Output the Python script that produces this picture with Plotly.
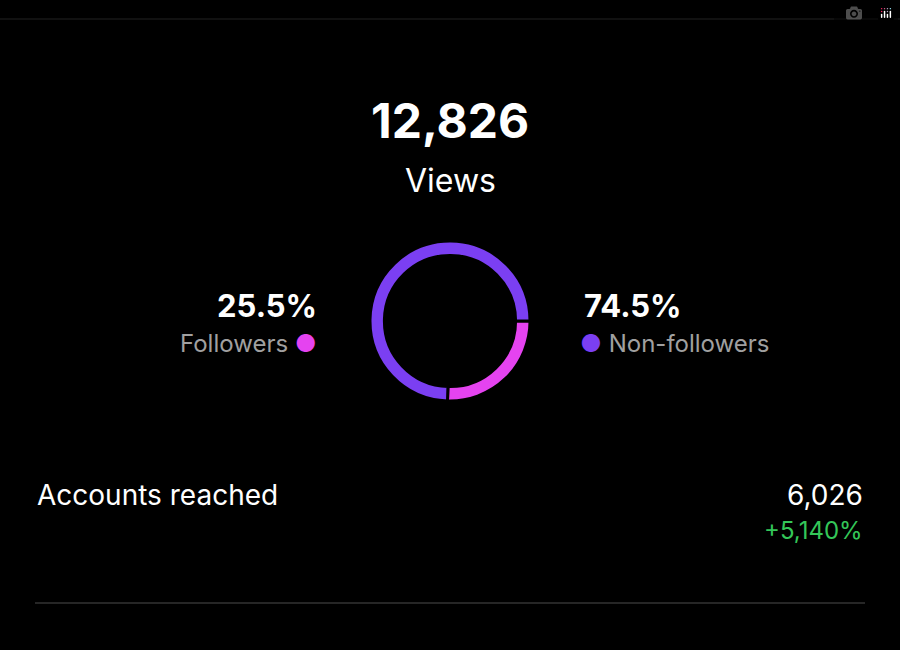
import plotly.graph_objects as go

labels = ["Followers", "Non-followers"]
values = [25.5, 74.5]
colors = ["#e543f0", "#7b3ff2"]
total_views = "12,826"
reach_label = "Accounts reached"
reach_value = "6,026"
reach_change = "+5,140%"

W, H = 900, 650
def py(y): return 1 - y / H
def px(x): return x / W

fig = go.Figure(go.Pie(
    labels=labels, values=values, hole=0.82, sort=False, direction="counterclockwise",
    rotation=90, marker=dict(colors=colors, line=dict(color="#000", width=3)),
    textinfo="none", hoverinfo="skip", showlegend=False,
    domain=dict(x=[px(370), px(530)], y=[py(401), py(241)])))

F = "Inter, Roboto, sans-serif"
ann = []
def t(x, y, s, size, color="#fff", xa="center", bold=False):
    ann.append(dict(x=px(x), y=py(y), xref="paper", yref="paper", text=f"<b>{s}</b>" if bold else s,
                    showarrow=False, xanchor=xa, yanchor="middle",
                    font=dict(family=F, size=size, color=color)))
t(450, 120, total_views, 48, bold=True)
t(450, 180, "Views", 32)
t(319, 305, f"{values[0]}%", 31, xa="right", bold=True)
t(319, 343, f"Followers <span style='color:{colors[0]}'>●</span>", 24, "#a0a0a0", xa="right")
t(582, 305, f"{values[1]}%", 31, xa="left", bold=True)
t(578, 343, f"<span style='color:{colors[1]}'>●</span> Non-followers", 24, "#a0a0a0", xa="left")
t(35, 495, reach_label, 28, xa="left")
t(865, 495, reach_value, 28, xa="right")
t(865, 530, reach_change, 24, "#34c759", xa="right")

fig.update_layout(
    width=W, height=H, margin=dict(l=0, r=0, t=0, b=0),
    paper_bgcolor="#000", plot_bgcolor="#000", annotations=ann,
    shapes=[dict(type="line", xref="paper", yref="paper", x0=0, x1=1, y0=py(19), y1=py(19),
                 line=dict(color="#222", width=1)),
            dict(type="line", xref="paper", yref="paper", x0=px(35), x1=px(865), y0=py(603), y1=py(603),
                 line=dict(color="#333", width=1.5))])
fig.write_html("out.html", post_script="document.body.style.margin='0';document.body.style.background='#000';document.body.style.overflow='hidden';")
